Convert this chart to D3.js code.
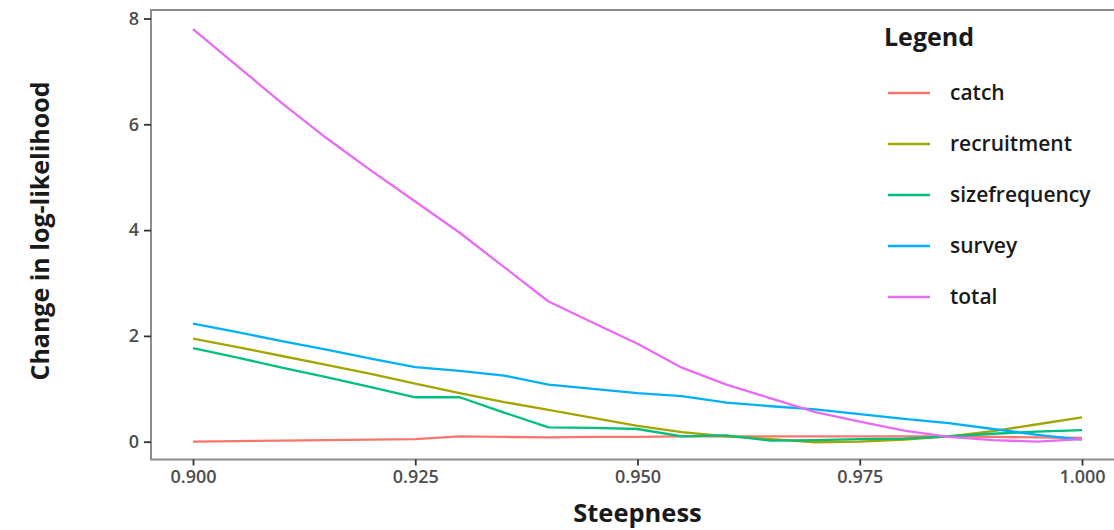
<!DOCTYPE html>
<html>
<head>
<meta charset="utf-8">
<script src="https://cdn.jsdelivr.net/npm/d3@7"></script>
<style>
  html, body { margin: 0; padding: 0; background: #ffffff; }
  svg { display: block; font-family: "Open Sans", "Noto Sans", sans-serif; }
</style>
</head>
<body>
<svg id="chart" width="1114" height="530"></svg>
<script>
const steepness = [0.900, 0.905, 0.910, 0.915, 0.920, 0.925, 0.930, 0.935, 0.940, 0.945, 0.950,
                   0.955, 0.960, 0.965, 0.970, 0.975, 0.980, 0.985, 0.990, 0.995, 1.000];
const catchVals = [0.00, 0.01, 0.02, 0.03, 0.04, 0.05, 0.10, 0.09, 0.08, 0.09, 0.09,
                   0.10, 0.10, 0.10, 0.10, 0.10, 0.10, 0.10, 0.09, 0.08, 0.07];
const recruitmentVals = [1.95, 1.79, 1.62, 1.45, 1.28, 1.10, 0.92, 0.75, 0.60, 0.45, 0.30,
                   0.18, 0.10, 0.05, -0.01, 0.00, 0.04, 0.10, 0.20, 0.33, 0.46];
const sizefrequencyVals = [1.77, 1.59, 1.40, 1.22, 1.03, 0.84, 0.84, 0.55, 0.27, 0.26, 0.24,
                   0.10, 0.12, 0.02, 0.03, 0.05, 0.06, 0.10, 0.15, 0.19, 0.22];
const surveyVals = [2.23, 2.07, 1.90, 1.74, 1.57, 1.41, 1.34, 1.25, 1.08, 1.00, 0.92,
                   0.86, 0.74, 0.67, 0.61, 0.52, 0.43, 0.35, 0.24, 0.13, 0.04];
const totalVals = [7.80, 7.10, 6.40, 5.74, 5.13, 4.54, 3.95, 3.30, 2.65, 2.25, 1.85,
                   1.40, 1.08, 0.82, 0.56, 0.38, 0.21, 0.09, 0.03, 0.00, 0.05];
const seriesNames = ["catch", "recruitment", "sizefrequency", "survey", "total"];
const seriesColors = ["#F8766D", "#A3A500", "#00BF7D", "#00B0F6", "#E76BF3"];
const xTicks = [0.900, 0.925, 0.950, 0.975, 1.000];
const yTicks = [0, 2, 4, 6, 8];
const xTitle = "Steepness";
const yTitle = "Change in log-likelihood";
const legendTitle = "Legend";

const seriesValues = [catchVals, recruitmentVals, sizefrequencyVals, surveyVals, totalVals];

const svg = d3.select("#chart");
const x = d3.scaleLinear().domain([0.9, 1.0]).range([193, 1082]);
const y = d3.scaleLinear().domain([0, 8]).range([441.7, 18.5]);
const panel = { left: 151, top: 10, right: x(1.005), bottom: 459.5 };

svg.append("defs").append("clipPath").attr("id", "clip")
  .append("rect")
  .attr("x", panel.left).attr("y", panel.top)
  .attr("width", panel.right - panel.left).attr("height", panel.bottom - panel.top);

// lines
const line = d3.line().x((d, i) => x(steepness[i])).y(d => y(d));
const g = svg.append("g").attr("clip-path", "url(#clip)");
seriesValues.forEach((vals, k) => {
  g.append("path")
    .attr("d", line(vals))
    .attr("fill", "none")
    .attr("stroke", seriesColors[k])
    .attr("stroke-width", 2.3)
    .attr("stroke-linejoin", "round")
    .attr("stroke-linecap", "butt");
});

// panel border
svg.append("rect")
  .attr("x", panel.left).attr("y", panel.top)
  .attr("width", panel.right - panel.left).attr("height", panel.bottom - panel.top)
  .attr("fill", "none").attr("stroke", "#8c8c8c").attr("stroke-width", 2);

// axes
const xAxis = d3.axisBottom(x).tickValues(xTicks).tickFormat(d3.format(".3f")).tickSize(6).tickPadding(5);
const gx = svg.append("g").attr("transform", `translate(0,${panel.bottom})`).call(xAxis);
gx.select(".domain").remove();
gx.selectAll(".tick line").attr("stroke", "#333").attr("stroke-width", 1.8);
gx.selectAll(".tick text").attr("fill", "#4d4d4d").attr("font-size", 18).attr("font-weight", 600)
  .attr("font-family", "'Open Sans', sans-serif");

const yAxis = d3.axisLeft(y).tickValues(yTicks).tickFormat(d3.format("d")).tickSize(7).tickPadding(5);
const gy = svg.append("g").attr("transform", `translate(${panel.left},0)`).call(yAxis);
gy.select(".domain").remove();
gy.selectAll(".tick line").attr("stroke", "#333").attr("stroke-width", 1.8);
gy.selectAll(".tick text").attr("fill", "#4d4d4d").attr("font-size", 18).attr("font-weight", 600)
  .attr("font-family", "'Open Sans', sans-serif");

// titles
svg.append("text").attr("x", x(0.95)).attr("y", 522).attr("text-anchor", "middle")
  .attr("font-size", 25.5).attr("font-weight", 700).attr("fill", "#1a1a1a").text(xTitle);
svg.append("text").attr("transform", "translate(49,231) rotate(-90)").attr("text-anchor", "middle")
  .attr("font-size", 25).attr("font-weight", 700).attr("fill", "#1a1a1a").text(yTitle);

// legend
const lg = svg.append("g");
lg.append("text").attr("x", 884).attr("y", 46).attr("font-size", 25).attr("font-weight", 700)
  .attr("fill", "#1a1a1a").text(legendTitle);
seriesNames.forEach((name, k) => {
  const yy = 93 + k * 51;
  lg.append("line").attr("x1", 888).attr("x2", 930).attr("y1", yy).attr("y2", yy)
    .attr("stroke", seriesColors[k]).attr("stroke-width", 2.3);
  lg.append("text").attr("x", 950).attr("y", yy).attr("dy", "0.35em")
    .attr("font-size", 21).attr("font-weight", 600).attr("fill", "#1a1a1a").text(name);
});
</script>
</body>
</html>
